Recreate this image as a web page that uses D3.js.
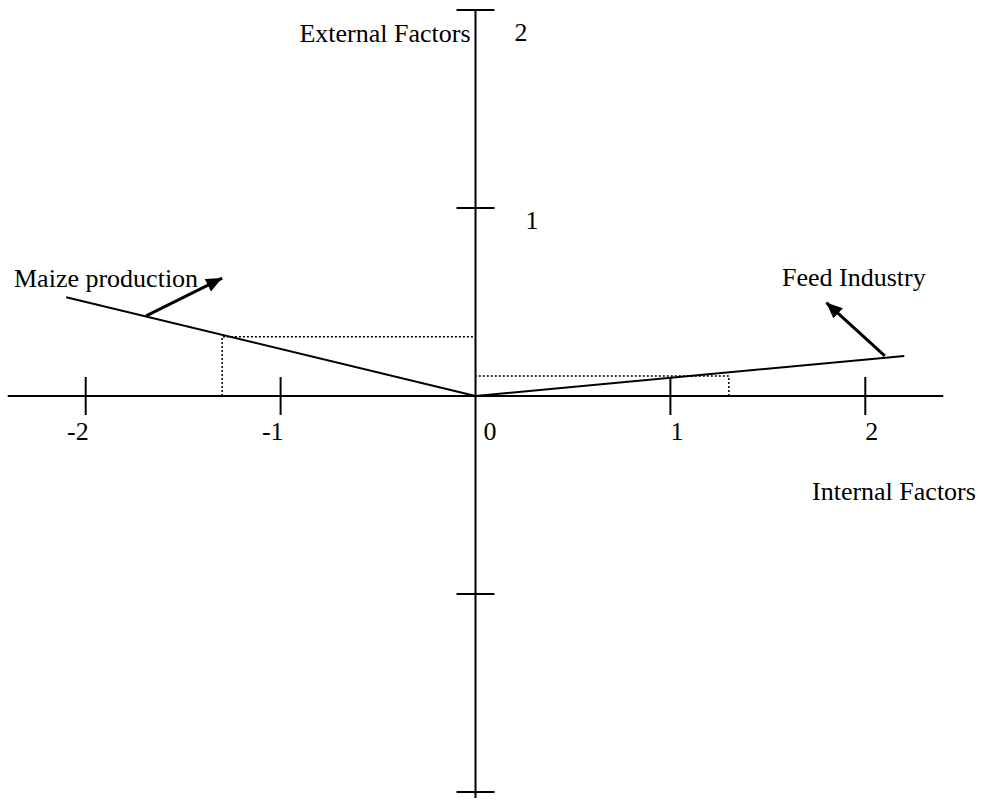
<!DOCTYPE html>
<html>
<head>
<meta charset="utf-8">
<script src="https://cdn.jsdelivr.net/npm/d3@7"></script>
<style>
  html, body { margin: 0; padding: 0; background: #fff; }
  svg { display: block; }
  text { font-family: "Liberation Serif", "Times New Roman", serif; font-size: 26px; fill: #000; }
</style>
</head>
<body>
<svg id="chart" width="983" height="800"></svg>
<script>
// ---- data ----
const xTickValues = [-2, -1, 0, 1, 2];
const xTickLabels = ["-2", "-1", "0", "1", "2"];
const yTickValues = [2, 1, -1, -2];
const yTickLabels = ["2", "1"];
const xAxisExtent = [-2.4, 2.4];
const yAxisExtent = [-2.03, 2];
const seriesNames = ["Maize production", "Feed Industry"];
const seriesEnd = [[-2.1, 0.525], [2.2, 0.213]];
const seriesPoint = [[-1.3, 0.315], [1.3, 0.106]];
const arrowFrom = [[-1.69, 0.426], [2.10, 0.213]];
const arrowTo = [[-1.30, 0.627], [1.80, 0.497]];
const axisTitles = ["Internal Factors", "External Factors"];

// ---- scales ----
const x = d3.scaleLinear().domain([-2, 2]).range([85.7, 865.3]);
const y = d3.scaleLinear().domain([-2, -1, 0, 1, 2]).range([792, 594, 396, 208, 10]);

const svg = d3.select("#chart");

svg.append("defs").append("marker")
  .attr("id", "head")
  .attr("markerUnits", "userSpaceOnUse")
  .attr("viewBox", "0 0 16 14")
  .attr("markerWidth", 16).attr("markerHeight", 14)
  .attr("refX", 16).attr("refY", 7)
  .attr("orient", "auto")
  .append("path").attr("d", "M0,0 L16,7 L0,14 Z").attr("fill", "#000");

const g = svg.append("g");
const x0 = x(0), y0 = y(0);

// axes
g.append("line").attr("x1", x(xAxisExtent[0])).attr("x2", x(xAxisExtent[1]))
  .attr("y1", y0).attr("y2", y0).attr("stroke", "#000").attr("stroke-width", 2);
g.append("line").attr("x1", x0).attr("x2", x0)
  .attr("y1", y(yAxisExtent[1])).attr("y2", y(yAxisExtent[0])).attr("stroke", "#000").attr("stroke-width", 2);

// x ticks
g.selectAll(".xt").data(xTickValues.filter(d => d !== 0)).enter().append("line")
  .attr("x1", d => x(d)).attr("x2", d => x(d))
  .attr("y1", y0 - 19).attr("y2", y0 + 19)
  .attr("stroke", "#000").attr("stroke-width", 2);
// y ticks
g.selectAll(".yt").data(yTickValues).enter().append("line")
  .attr("x1", x0 - 19).attr("x2", x0 + 19)
  .attr("y1", d => y(d)).attr("y2", d => y(d))
  .attr("stroke", "#000").attr("stroke-width", 2);

// x tick labels
g.selectAll(".xl").data(xTickValues).enter().append("text")
  .attr("x", d => d < 0 ? x(d) + 3 : (d === 0 ? x(d) + 8 : x(d)))
  .attr("y", y0 + 44)
  .attr("text-anchor", d => d < 0 ? "end" : "start")
  .text((d, i) => xTickLabels[i]);

// y tick labels
const yLabelDx = [39, 50];
const yLabelDy = [31, 21];
g.selectAll(".yl").data(yTickLabels).enter().append("text")
  .attr("x", (d, i) => x0 + yLabelDx[i])
  .attr("y", (d, i) => y(+d) + yLabelDy[i])
  .text(d => d);

// dotted projections
seriesPoint.forEach(p => {
  g.append("path")
    .attr("d", `M${x(p[0])},${y0} L${x(p[0])},${y(p[1])} L${x0},${y(p[1])}`)
    .attr("fill", "none").attr("stroke", "#000").attr("stroke-width", 1.5)
    .attr("stroke-dasharray", "2,2");
});

// series lines
seriesEnd.forEach(p => {
  g.append("line").attr("x1", x0).attr("y1", y0)
    .attr("x2", x(p[0])).attr("y2", y(p[1]))
    .attr("stroke", "#000").attr("stroke-width", 2);
});

// arrows
arrowFrom.forEach((a, i) => {
  g.append("line").attr("x1", x(a[0])).attr("y1", y(a[1]))
    .attr("x2", x(arrowTo[i][0])).attr("y2", y(arrowTo[i][1]))
    .attr("stroke", "#000").attr("stroke-width", 3)
    .attr("marker-end", "url(#head)");
});

// series labels
g.append("text").attr("x", 14).attr("y", 287).text(seriesNames[0]);
g.append("text").attr("x", 782).attr("y", 286).text(seriesNames[1]);

// axis titles
g.append("text").attr("x", 812).attr("y", 500).text(axisTitles[0]);
g.append("text").attr("x", x0 - 5).attr("y", 42).attr("text-anchor", "end").text(axisTitles[1]);
</script>
</body>
</html>
